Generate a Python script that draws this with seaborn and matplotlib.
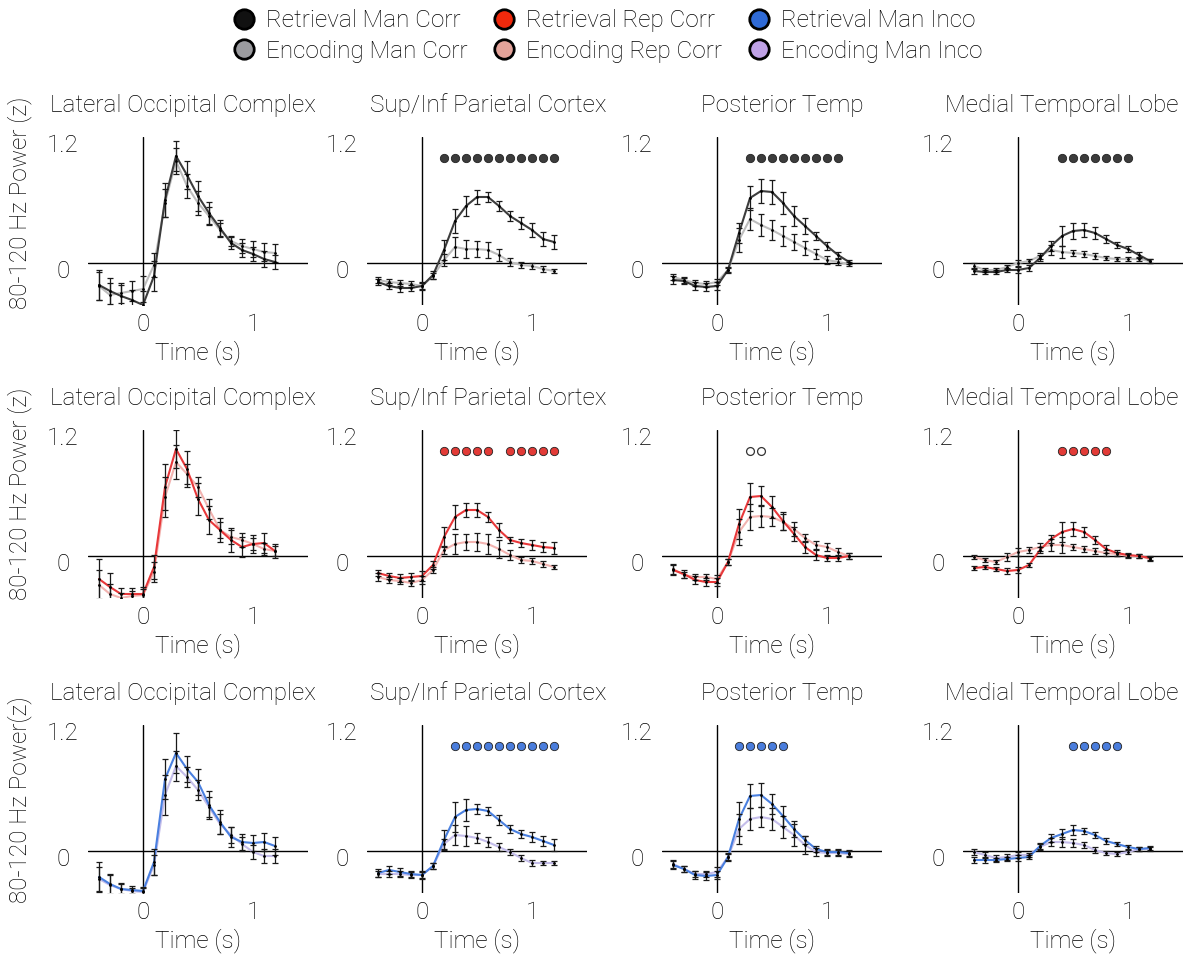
import numpy as np
import pandas as pd
import matplotlib
matplotlib.use("Agg")
import matplotlib.pyplot as plt
import matplotlib.transforms as mtransforms
from matplotlib.lines import Line2D
import seaborn as sns

# ---------------- data ----------------
time = [-0.4, -0.3, -0.2, -0.1, 0.0, 0.1, 0.2, 0.3, 0.4, 0.5, 0.6, 0.7, 0.8, 0.9, 1.0, 1.1, 1.2]
regions = ["Lateral Occipital Complex", "Sup/Inf Parietal Cortex", "Posterior Temp", "Medial Temporal Lobe"]
row_names = ["Man Corr", "Rep Corr", "Man Inco"]
ylabels = ["80-120 Hz Power (z)", "80-120 Hz Power (z)", "80-120 Hz Power(z)"]
legend_labels = ["Retrieval Man Corr", "Encoding Man Corr", "Retrieval Rep Corr",
                 "Encoding Rep Corr", "Retrieval Man Inco", "Encoding Man Inco"]

# Row 1: Manipulation correct (retrieval vs encoding)
man_corr_ret = [
    [-0.22, -0.28, -0.33, -0.37, -0.42, -0.13, 0.63, 1.07, 0.88, 0.67, 0.50, 0.35, 0.20, 0.13, 0.09, 0.04, 0.01],
    [-0.19, -0.23, -0.25, -0.25, -0.23, -0.12, 0.13, 0.42, 0.57, 0.66, 0.66, 0.57, 0.47, 0.40, 0.33, 0.24, 0.21],
    [-0.17, -0.18, -0.23, -0.24, -0.23, -0.07, 0.30, 0.65, 0.72, 0.71, 0.60, 0.47, 0.37, 0.27, 0.17, 0.08, 0.01],
    [-0.08, -0.09, -0.09, -0.07, -0.07, -0.05, 0.05, 0.17, 0.27, 0.32, 0.33, 0.30, 0.24, 0.18, 0.14, 0.08, 0.02],
]
man_corr_enc = [
    [-0.23, -0.32, -0.30, -0.28, -0.26, -0.02, 0.60, 1.02, 0.77, 0.60, 0.47, 0.33, 0.22, 0.17, 0.14, 0.11, 0.10],
    [-0.17, -0.19, -0.20, -0.21, -0.23, -0.13, 0.03, 0.16, 0.14, 0.14, 0.13, 0.08, 0.01, -0.02, -0.03, -0.06, -0.08],
    [-0.14, -0.17, -0.20, -0.21, -0.19, -0.07, 0.23, 0.44, 0.38, 0.33, 0.27, 0.21, 0.15, 0.09, 0.03, 0.01, -0.01],
    [-0.03, -0.07, -0.07, -0.04, 0.00, 0.02, 0.07, 0.13, 0.11, 0.10, 0.09, 0.07, 0.05, 0.04, 0.04, 0.04, 0.02],
]
man_corr_ret_err = [
    [0.15, 0.13, 0.11, 0.10, 0.14, 0.15, 0.17, 0.15, 0.14, 0.15, 0.11, 0.08, 0.06, 0.07, 0.07, 0.08, 0.07],
    [0.03, 0.03, 0.04, 0.03, 0.04, 0.04, 0.10, 0.12, 0.10, 0.07, 0.05, 0.05, 0.05, 0.06, 0.07, 0.07, 0.07],
    [0.04, 0.03, 0.04, 0.04, 0.04, 0.03, 0.10, 0.12, 0.12, 0.12, 0.11, 0.10, 0.08, 0.04, 0.04, 0.03, 0.02],
    [0.03, 0.02, 0.02, 0.02, 0.03, 0.03, 0.03, 0.05, 0.10, 0.08, 0.07, 0.06, 0.04, 0.03, 0.03, 0.03, 0.02],
]
man_corr_enc_err = [
    [0.14, 0.12, 0.10, 0.10, 0.13, 0.12, 0.14, 0.13, 0.12, 0.12, 0.09, 0.07, 0.05, 0.07, 0.08, 0.09, 0.09],
    [0.03, 0.03, 0.03, 0.03, 0.03, 0.03, 0.06, 0.10, 0.09, 0.08, 0.08, 0.06, 0.04, 0.03, 0.03, 0.03, 0.02],
    [0.03, 0.03, 0.03, 0.03, 0.03, 0.02, 0.12, 0.11, 0.11, 0.10, 0.10, 0.08, 0.07, 0.05, 0.04, 0.03, 0.02],
    [0.03, 0.02, 0.02, 0.02, 0.03, 0.02, 0.03, 0.05, 0.06, 0.03, 0.03, 0.03, 0.02, 0.02, 0.02, 0.02, 0.02],
]

# Row 2: Repetition correct
rep_corr_ret = [
    [-0.23, -0.31, -0.38, -0.38, -0.38, -0.11, 0.69, 1.07, 0.87, 0.57, 0.36, 0.26, 0.16, 0.09, 0.12, 0.13, 0.05],
    [-0.17, -0.20, -0.22, -0.21, -0.20, -0.09, 0.19, 0.39, 0.46, 0.46, 0.39, 0.26, 0.16, 0.13, 0.11, 0.09, 0.08],
    [-0.14, -0.18, -0.24, -0.26, -0.26, -0.06, 0.32, 0.59, 0.60, 0.49, 0.35, 0.22, 0.09, 0.01, -0.02, -0.02, 0.00],
    [-0.12, -0.11, -0.13, -0.15, -0.14, -0.09, 0.06, 0.17, 0.24, 0.27, 0.24, 0.16, 0.07, 0.03, 0.01, 0.00, -0.02],
]
rep_corr_enc = [
    [-0.29, -0.38, -0.42, -0.40, -0.39, -0.16, 0.59, 0.94, 0.82, 0.69, 0.47, 0.26, 0.19, 0.16, 0.12, 0.07, 0.05],
    [-0.21, -0.24, -0.25, -0.27, -0.24, -0.14, 0.06, 0.12, 0.14, 0.14, 0.12, 0.07, 0.01, -0.04, -0.05, -0.08, -0.11],
    [-0.13, -0.19, -0.21, -0.21, -0.23, -0.06, 0.24, 0.39, 0.40, 0.39, 0.34, 0.27, 0.18, 0.11, 0.09, 0.04, 0.00],
    [-0.01, -0.04, -0.06, -0.01, 0.04, 0.06, 0.09, 0.11, 0.11, 0.09, 0.07, 0.05, 0.03, 0.02, 0.00, 0.00, -0.03],
]
rep_corr_ret_err = [
    [0.20, 0.14, 0.06, 0.06, 0.07, 0.12, 0.23, 0.19, 0.18, 0.16, 0.14, 0.12, 0.12, 0.10, 0.09, 0.10, 0.07],
    [0.03, 0.03, 0.04, 0.04, 0.05, 0.04, 0.10, 0.12, 0.07, 0.07, 0.05, 0.07, 0.03, 0.04, 0.05, 0.05, 0.06],
    [0.05, 0.04, 0.04, 0.04, 0.04, 0.03, 0.15, 0.14, 0.10, 0.11, 0.09, 0.07, 0.06, 0.05, 0.03, 0.03, 0.03],
    [0.02, 0.02, 0.02, 0.03, 0.03, 0.02, 0.03, 0.04, 0.10, 0.07, 0.05, 0.04, 0.04, 0.03, 0.02, 0.02, 0.02],
]
rep_corr_enc_err = [
    [0.15, 0.10, 0.05, 0.05, 0.06, 0.10, 0.20, 0.17, 0.10, 0.10, 0.10, 0.08, 0.07, 0.07, 0.06, 0.06, 0.05],
    [0.04, 0.03, 0.03, 0.03, 0.04, 0.03, 0.04, 0.10, 0.08, 0.09, 0.10, 0.09, 0.05, 0.03, 0.03, 0.03, 0.02],
    [0.05, 0.03, 0.03, 0.03, 0.04, 0.03, 0.13, 0.13, 0.11, 0.09, 0.08, 0.07, 0.04, 0.04, 0.04, 0.04, 0.03],
    [0.02, 0.02, 0.02, 0.04, 0.04, 0.03, 0.04, 0.06, 0.08, 0.03, 0.03, 0.03, 0.03, 0.02, 0.02, 0.02, 0.02],
]

# Row 3: Manipulation incorrect
man_inco_ret = [
    [-0.26, -0.33, -0.38, -0.39, -0.40, -0.11, 0.72, 0.98, 0.82, 0.69, 0.46, 0.29, 0.14, 0.09, 0.08, 0.09, 0.05],
    [-0.22, -0.19, -0.21, -0.23, -0.24, -0.15, 0.11, 0.34, 0.41, 0.42, 0.40, 0.31, 0.22, 0.17, 0.14, 0.10, 0.06],
    [-0.14, -0.18, -0.24, -0.25, -0.24, -0.06, 0.32, 0.55, 0.56, 0.47, 0.35, 0.22, 0.11, 0.02, -0.01, -0.01, -0.02],
    [-0.09, -0.09, -0.09, -0.08, -0.07, -0.06, 0.05, 0.13, 0.17, 0.21, 0.20, 0.16, 0.10, 0.07, 0.04, 0.02, 0.03],
]
man_inco_enc = [
    [-0.28, -0.34, -0.38, -0.40, -0.41, -0.14, 0.56, 0.85, 0.74, 0.61, 0.44, 0.27, 0.16, 0.07, -0.01, -0.05, -0.05],
    [-0.23, -0.23, -0.23, -0.24, -0.24, -0.15, 0.07, 0.16, 0.15, 0.13, 0.09, 0.04, -0.01, -0.07, -0.12, -0.12, -0.12],
    [-0.13, -0.18, -0.23, -0.23, -0.21, -0.06, 0.22, 0.32, 0.34, 0.32, 0.24, 0.16, 0.06, -0.01, -0.02, -0.02, -0.03],
    [-0.01, -0.04, -0.07, -0.06, -0.04, -0.04, 0.04, 0.09, 0.09, 0.08, 0.06, 0.01, -0.02, -0.03, -0.01, 0.02, 0.02],
]
man_inco_ret_err = [
    [0.15, 0.10, 0.06, 0.04, 0.04, 0.13, 0.20, 0.20, 0.13, 0.13, 0.14, 0.12, 0.10, 0.08, 0.08, 0.09, 0.09],
    [0.04, 0.04, 0.04, 0.03, 0.04, 0.03, 0.10, 0.15, 0.11, 0.05, 0.04, 0.05, 0.04, 0.04, 0.05, 0.05, 0.06],
    [0.04, 0.03, 0.04, 0.04, 0.04, 0.04, 0.17, 0.12, 0.12, 0.10, 0.10, 0.08, 0.04, 0.03, 0.03, 0.03, 0.03],
    [0.03, 0.03, 0.02, 0.02, 0.03, 0.02, 0.03, 0.04, 0.05, 0.05, 0.03, 0.03, 0.03, 0.02, 0.02, 0.02, 0.02],
]
man_inco_enc_err = [
    [0.12, 0.10, 0.05, 0.03, 0.04, 0.10, 0.20, 0.15, 0.10, 0.10, 0.10, 0.10, 0.08, 0.07, 0.07, 0.07, 0.07],
    [0.03, 0.03, 0.03, 0.03, 0.03, 0.03, 0.05, 0.10, 0.10, 0.05, 0.05, 0.04, 0.03, 0.03, 0.03, 0.02, 0.02],
    [0.04, 0.03, 0.03, 0.03, 0.05, 0.03, 0.15, 0.11, 0.10, 0.11, 0.11, 0.11, 0.09, 0.04, 0.03, 0.03, 0.03],
    [0.03, 0.03, 0.03, 0.03, 0.03, 0.02, 0.03, 0.04, 0.05, 0.04, 0.03, 0.03, 0.02, 0.02, 0.02, 0.02, 0.02],
]

# significant time points (filled dots) per row / region
sig_man_corr = [[], [0.2, 0.3, 0.4, 0.5, 0.6, 0.7, 0.8, 0.9, 1.0, 1.1, 1.2],
                [0.3, 0.4, 0.5, 0.6, 0.7, 0.8, 0.9, 1.0, 1.1], [0.4, 0.5, 0.6, 0.7, 0.8, 0.9, 1.0]]
sig_rep_corr = [[], [0.2, 0.3, 0.4, 0.5, 0.6, 0.8, 0.9, 1.0, 1.1, 1.2], [], [0.4, 0.5, 0.6, 0.7, 0.8]]
sig_man_inco = [[], [0.3, 0.4, 0.5, 0.6, 0.7, 0.8, 0.9, 1.0, 1.1, 1.2], [0.2, 0.3, 0.4, 0.5, 0.6],
                [0.5, 0.6, 0.7, 0.8, 0.9]]
# open (trend) dots
trend_rep_corr = [[], [], [0.3, 0.4], []]
sig_level = 1.05

# ---------------- style ----------------
ret_colors = ["#3c3c3c", "#e8383a", "#4a80e0"]
enc_colors = ["#bdbdbd", "#f2b3b0", "#c4bdea"]
dot_colors = ["#3c3c3c", "#e23b37", "#4a7ddc"]
legend_colors = ["#111111", "#9b9b9f", "#f0290c", "#e3a39a", "#2f6ad6", "#c0a2e6"]
TXT = "#000000"

sns.set_theme(style="white")
plt.rcParams["font.family"] = ["Roboto", "DejaVu Sans"]
plt.rcParams["font.weight"] = "light"
plt.rcParams["text.color"] = TXT
plt.rcParams["axes.labelcolor"] = TXT
plt.rcParams["axes.titleweight"] = "light"
plt.rcParams["axes.labelweight"] = "light"
plt.rcParams["xtick.color"] = TXT
plt.rcParams["ytick.color"] = TXT

W, H = 1194, 955
fig = plt.figure(figsize=(W / 100, H / 100), dpi=100)

col_left = [88, 367, 662, 963]
row_top = [137, 430, 725]
ax_w, ax_h = 220, 168
title_x = [0.43, 0.55, 0.545, 0.45]
ylabel_y = [203, 494, 800]
FS = 17.5

rows = [
    (man_corr_ret, man_corr_enc, man_corr_ret_err, man_corr_enc_err, sig_man_corr, [[]] * 4),
    (rep_corr_ret, rep_corr_enc, rep_corr_ret_err, rep_corr_enc_err, sig_rep_corr, trend_rep_corr),
    (man_inco_ret, man_inco_enc, man_inco_ret_err, man_inco_enc_err, sig_man_inco, [[]] * 4),
]

t = np.array(time)
for r, (ret, enc, ret_err, enc_err, sig, trend) in enumerate(rows):
    for c in range(4):
        ax = fig.add_axes([col_left[c] / W, 1 - (row_top[r] + ax_h) / H, ax_w / W, ax_h / H])
        ax.set_xlim(-0.5, 1.5)
        ax.set_ylim(-0.42, 1.26)
        ax.axhline(0, color="black", lw=1.0, zorder=1)
        ax.axvline(0, color="black", lw=1.0, zorder=1)
        df = pd.DataFrame({"time": np.concatenate([t, t]),
                           "power": np.concatenate([enc[c], ret[c]]),
                           "cond": ["enc"] * len(t) + ["ret"] * len(t)})
        sns.lineplot(data=df, x="time", y="power", hue="cond",
                     palette={"enc": enc_colors[r], "ret": ret_colors[r]},
                     estimator=None, sort=False, lw=1.5, legend=False, ax=ax, zorder=2)
        for vals, errs in ((enc[c], enc_err[c]), (ret[c], ret_err[c])):
            ax.errorbar(t, vals, yerr=errs, fmt="o", ms=1.0, color="black",
                        ecolor="#1a1a1a", elinewidth=0.9, capsize=2.0, capthick=0.9, zorder=3)
        if sig[c]:
            sns.scatterplot(x=sig[c], y=[sig_level] * len(sig[c]), ax=ax, s=36,
                            color=dot_colors[r], edgecolor="#222222", linewidth=0.6,
                            legend=False, zorder=4, clip_on=False)
        if trend[c]:
            sns.scatterplot(x=trend[c], y=[sig_level] * len(trend[c]), ax=ax, s=32,
                            color="white", edgecolor="#333333", linewidth=0.9,
                            legend=False, zorder=4, clip_on=False)
        for s in ax.spines.values():
            s.set_visible(False)
        ax.set_xticks([0, 1])
        ax.set_xticklabels(["0", "1"], fontsize=FS, fontweight="light", color=TXT)
        ax.set_yticks([0, 1.2])
        ax.set_yticklabels(["0", "1.2"], fontsize=FS, fontweight="light", color=TXT)
        ax.tick_params(axis="both", length=0)
        ax.tick_params(axis="x", pad=6)
        ax.tick_params(axis="y", pad=18)
        for lab in ax.get_yticklabels():
            lab.set_horizontalalignment("center")
            if lab.get_text() == "0":
                lab.set_transform(lab.get_transform() +
                                  mtransforms.ScaledTranslation(0, -6 / 100, fig.dpi_scale_trans))
        ax.set_xlabel("Time (s)", fontsize=FS, labelpad=3, fontweight="light", color=TXT)
        ax.set_ylabel("")
        ax.set_title(regions[c], fontsize=FS, x=title_x[c], pad=18, fontweight="light", color=TXT)
        ax.grid(False)
    fig.text(20 / W, 1 - ylabel_y[r] / H, ylabels[r], rotation=90, fontsize=FS,
             ha="center", va="center", fontweight="light", color=TXT)

handles = [Line2D([], [], marker="o", ls="", ms=14, mfc=col, mec="black", mew=2.0)
           for col in legend_colors]
fig.legend(handles, legend_labels, ncol=3, loc="upper center", bbox_to_anchor=(0.508, 1.008),
           frameon=False, prop={"size": FS, "weight": "light"}, handletextpad=0.35,
           columnspacing=0.95, labelspacing=0.3, handlelength=1.1, borderpad=0.2)

fig.savefig("out.png", dpi=100, facecolor="white")
